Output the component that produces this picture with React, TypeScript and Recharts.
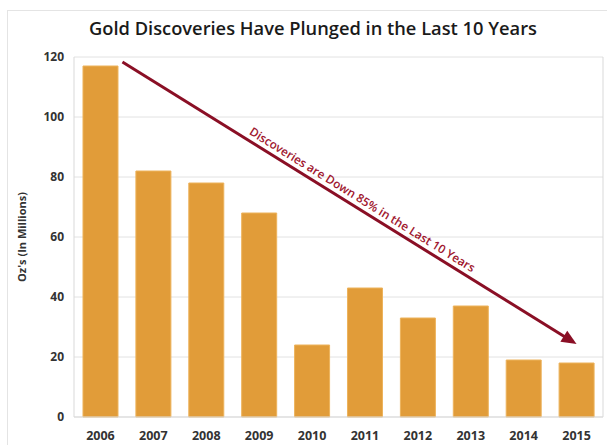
import { BarChart, Bar, XAxis, YAxis, CartesianGrid, ReferenceLine, Label } from 'recharts';

// Gold discoveries, million oz
const years = ['2006', '2007', '2008', '2009', '2010', '2011', '2012', '2013', '2014', '2015'];
const discoveries = [117, 82, 78, 68, 24, 43, 33, 37, 19, 18];
const yTicks = [0, 20, 40, 60, 80, 100, 120];

// trend arrow, in data units
const arrowStart = { x: '2006', y: 118.3 };
const arrowEnd = { x: '2015', y: 24.3 };
const arrowText = 'Discoveries are Down 85% in the Last 10 Years';

const chartData = years.map((year, i) => ({ year, value: discoveries[i] }));

const FONT = '"Open Sans", sans-serif';
const ARROW_COLOR = '#8A0F25';

const TrendArrow = (props: any) => {
  const { x1, y1, x2, y2 } = props;
  const sx = x1 + 22; // arrow starts just right of the first bar
  const dx = x2 - sx;
  const dy = y2 - y1;
  const len = Math.sqrt(dx * dx + dy * dy);
  const ux = dx / len;
  const uy = dy / len;
  const nx = uy;
  const ny = -ux;
  const headLen = 15;
  const headHalf = 6.5;
  const bx = x2 - ux * headLen;
  const by = y2 - uy * headLen;
  const angle = (Math.atan2(dy, dx) * 180) / Math.PI;
  const mx = sx + dx * 0.517 + nx * 10.5;
  const my = y1 + dy * 0.517 + ny * 10.5;
  return (
    <g>
      <line x1={sx} y1={y1} x2={bx + ux * 2} y2={by + uy * 2} stroke={ARROW_COLOR} strokeWidth={3} />
      <polygon
        points={`${x2},${y2} ${bx + nx * headHalf},${by + ny * headHalf} ${bx - nx * headHalf},${by - ny * headHalf}`}
        fill={ARROW_COLOR}
      />
      <text
        x={mx}
        y={my}
        transform={`rotate(${angle} ${mx} ${my})`}
        textAnchor="middle"
        dominantBaseline="central"
        fill="#A0162E"
        fontFamily={FONT}
        fontWeight={600}
        fontSize={11.8}
      >
        {arrowText}
      </text>
    </g>
  );
};

const App = () => {
  return (
    <div style={{ position: 'absolute', left: 0, top: 0, width: 607, height: 445, background: '#fff', fontFamily: FONT }}>
      <div
        style={{
          position: 'absolute',
          left: 7,
          top: 10,
          width: 620,
          height: 460,
          border: '1px solid #e4e4e4',
        }}
      />
      <div
        style={{
          position: 'absolute',
          left: 0,
          top: 15,
          width: 626,
          textAlign: 'center',
          fontSize: 18.3,
          fontWeight: 600,
          color: '#1a1a1a',
          lineHeight: '26px',
        }}
      >
        Gold Discoveries Have Plunged in the Last 10 Years
      </div>
      <div style={{ position: 'absolute', left: 0, top: 0 }}>
        <BarChart width={607} height={445} data={chartData} margin={{ top: 57, right: 3, bottom: 0, left: 0 }} barCategoryGap="17%">
          <CartesianGrid vertical={false} stroke="#e2e2e2" />
          <XAxis
            dataKey="year"
            height={28}
            tickSize={0}
            tickMargin={14}
            axisLine={{ stroke: '#d9d9d9' }}
            tick={{ fill: '#333', fontSize: 12.5, fontWeight: 700, fontFamily: FONT }}
          />
          <YAxis
            width={74}
            domain={[0, 120]}
            ticks={yTicks}
            tickSize={0}
            tickMargin={10}
            axisLine={{ stroke: '#d9d9d9' }}
            tick={{ fill: '#333', fontSize: 12, fontWeight: 700, fontFamily: FONT }}
          >
            <Label
              value="Oz's (In Millions)"
              angle={-90}
              position="insideLeft"
              offset={22}
              style={{ textAnchor: 'middle', fill: '#333', fontSize: 11, fontWeight: 700, fontFamily: FONT }}
            />
          </YAxis>
          <YAxis yAxisId="r" orientation="right" width={1} domain={[0, 120]} tick={false} tickLine={false} axisLine={{ stroke: '#d9d9d9' }} />
          <Bar dataKey="value" fill="#E19C39" stroke="#EDB35C" strokeWidth={1} isAnimationActive={false} />
          <ReferenceLine segment={[arrowStart, arrowEnd]} shape={TrendArrow} ifOverflow="visible" />
        </BarChart>
      </div>
    </div>
  );
};

export default App;
